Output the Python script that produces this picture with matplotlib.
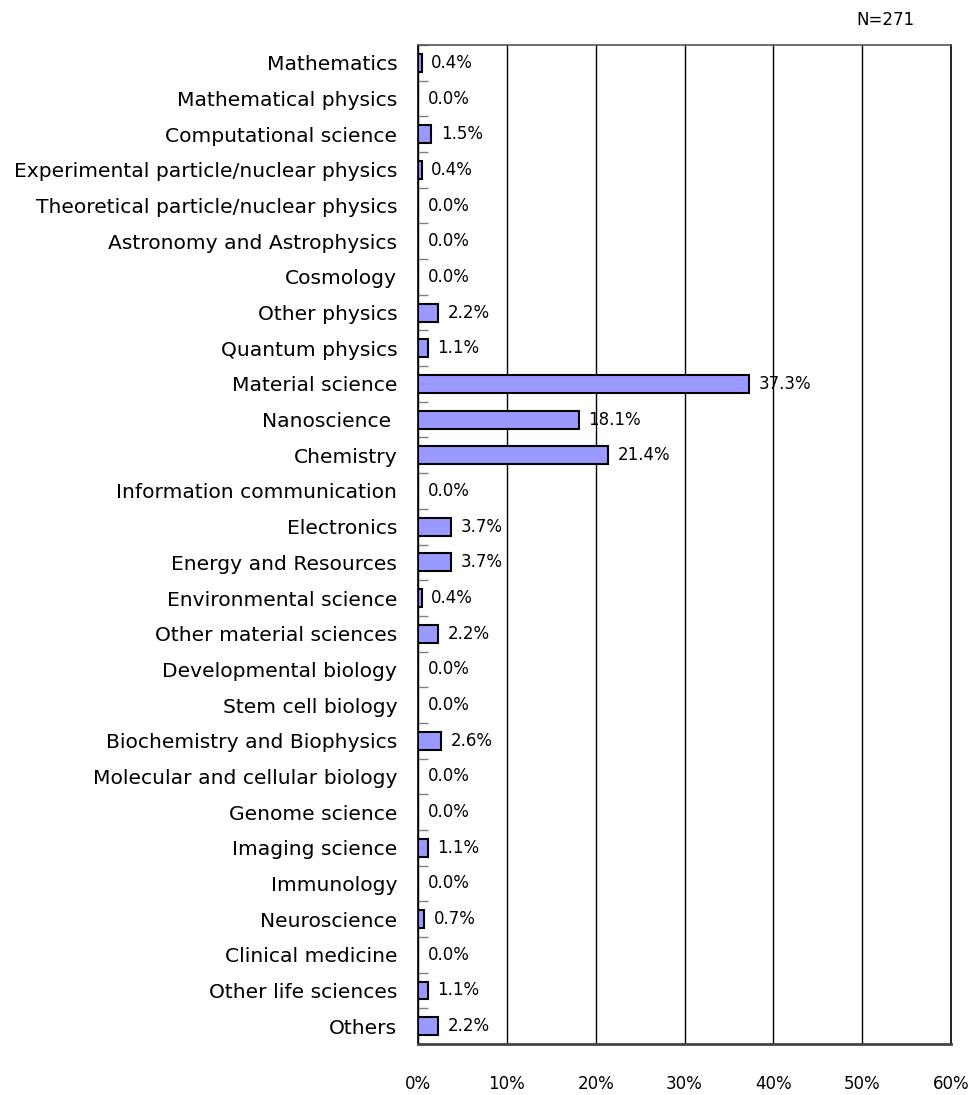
import matplotlib
matplotlib.use("Agg")
import matplotlib.pyplot as plt
import numpy as np

# categories, top to bottom
categories = [
    "Mathematics", "Mathematical physics", "Computational science",
    "Experimental particle/nuclear physics", "Theoretical particle/nuclear physics",
    "Astronomy and Astrophysics", "Cosmology", "Other physics", "Quantum physics",
    "Material science", "Nanoscience ", "Chemistry", "Information communication",
    "Electronics", "Energy and Resources", "Environmental science",
    "Other material sciences", "Developmental biology", "Stem cell biology",
    "Biochemistry and Biophysics", "Molecular and cellular biology",
    "Genome science", "Imaging science", "Immunology", "Neuroscience",
    "Clinical medicine", "Other life sciences", "Others",
]
values = [0.4, 0.0, 1.5, 0.4, 0.0, 0.0, 0.0, 2.2, 1.1, 37.3, 18.1, 21.4, 0.0,
          3.7, 3.7, 0.4, 2.2, 0.0, 0.0, 2.6, 0.0, 0.0, 1.1, 0.0, 0.7, 0.0, 1.1, 2.2]
xticks = [0, 10, 20, 30, 40, 50, 60]
n_label = "N=271"

plt.rcParams['font.family'] = ['DejaVu Sans']

fig = plt.figure(figsize=(9.73, 10.95), dpi=100)
ax = fig.add_axes([418/973, 1 - 1044/1095, (951 - 418)/973, (1044 - 45)/1095])

y = np.arange(len(categories))
ax.barh(y, values, height=0.5, color="#9999FF", edgecolor="black", linewidth=1.5, zorder=3)

for yi, v in zip(y, values):
    ax.annotate(f"{v:.1f}%", (v, yi), xytext=(7, 0), textcoords="offset points",
                va="center", ha="left", fontsize=12, zorder=4)

ax.set_xlim(0, 60)
ax.set_ylim(len(categories) - 0.5, -0.5)
ax.set_xticks(xticks)
ax.set_xticklabels([f"{t}%" for t in xticks], fontsize=12)
ax.tick_params(axis="x", length=0, pad=22)
ax.grid(axis="x", color="black", linewidth=1.0, zorder=0)

ax.set_yticks(y)
ax.set_yticklabels(categories, fontsize=14.6)
ax.tick_params(axis="y", which="major", length=0, pad=15)
ax.set_yticks(np.arange(len(categories) + 1) - 0.5, minor=True)
ax.tick_params(axis="y", which="minor", direction="in", length=7, color="gray", width=1)

for s in ["top", "right", "left"]:
    ax.spines[s].set_linewidth(1.2)
ax.spines["top"].set_color("#555555")
ax.spines["bottom"].set_color("#444444")
ax.spines["bottom"].set_linewidth(2)
ax.spines["left"].set_color("black")
ax.spines["right"].set_color("black")

fig.text(885/973, 1 - 20/1095, n_label, ha="center", va="center", fontsize=12)

fig.savefig("out.png", dpi=100)
